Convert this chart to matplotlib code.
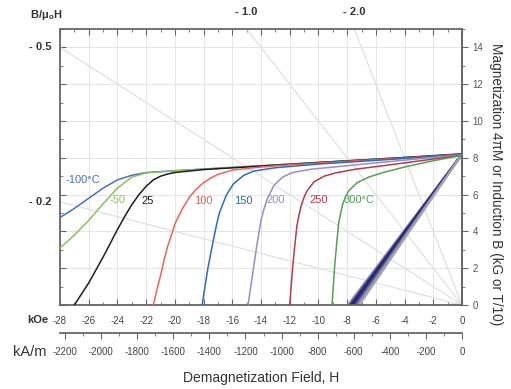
import matplotlib.pyplot as plt
import numpy as np
from matplotlib.ticker import MultipleLocator

plt.rcParams['font.family'] = ['Liberation Sans', 'DejaVu Sans']
plt.rcParams['axes.unicode_minus'] = False

# Intrinsic demagnetization curves (H in kOe, 4piM in kG)
temps = ['-100°C', '-50', '25', '100', '150', '200', '250', '300°C']
colors = ['#4a70b8', '#8fbf5c', '#1e1e1e', '#f2605a', '#2d6cb6', '#9a8cc6', '#b53d4a', '#5a9c58']

h_m100 = [-28, -27, -26, -25, -24, -23, -22, -20, -16, -12, -8, -4, 0]
m_m100 = [4.75, 5.25, 5.8, 6.35, 6.8, 7.05, 7.2, 7.3, 7.48, 7.66, 7.84, 8.02, 8.22]
h_m50 = [-28, -27, -26, -25, -24, -23, -22, -20, -16, -12, -8, -4, 0]
m_m50 = [3.1, 3.8, 4.6, 5.5, 6.35, 6.95, 7.18, 7.29, 7.47, 7.65, 7.83, 8.01, 8.21]
h_25 = [-27.0, -26.5, -26, -25.5, -25, -24.5, -24, -23.5, -23, -22.5, -22, -21.5, -21, -20.5, -20, -18, -14, -10, -6, -3, 0]
m_25 = [0, 0.6, 1.2, 1.9, 2.6, 3.35, 4.1, 4.8, 5.45, 6.0, 6.45, 6.8, 7.0, 7.12, 7.2, 7.36, 7.55, 7.74, 7.92, 8.06, 8.2]
h_100 = [-21.5, -21.2, -21, -20.7, -20.5, -20.2, -20, -19.5, -19, -18.5, -18, -17.5, -17, -16, -14, -12, -8, -4, 0]
m_100 = [0, 1.0, 1.6, 2.6, 3.2, 3.9, 4.4, 5.2, 5.85, 6.3, 6.65, 6.9, 7.1, 7.33, 7.5, 7.62, 7.81, 7.99, 8.18]
h_150 = [-18.1, -17.9, -17.7, -17.5, -17.3, -17.1, -16.9, -16.6, -16.4, -15.9, -15.2, -14.5, -13, -10, -6, -3, 0]
m_150 = [0, 1.0, 2.0, 2.8, 3.6, 4.35, 5.0, 5.6, 6.0, 6.6, 7.05, 7.28, 7.46, 7.66, 7.86, 8.02, 8.17]
h_200 = [-14.9, -14.75, -14.6, -14.45, -14.3, -14.15, -14.0, -13.8, -13.6, -13.1, -12.5, -11.8, -10.5, -8, -5, -2, 0]
m_200 = [0, 0.8, 1.6, 2.4, 3.2, 3.9, 4.6, 5.2, 5.7, 6.5, 6.95, 7.2, 7.38, 7.57, 7.8, 8.02, 8.16]
h_250 = [-12.0, -11.9, -11.8, -11.65, -11.5, -11.35, -11.2, -11.0, -10.8, -10.3, -9.6, -8.8, -7.5, -5, -2.5, 0]
m_250 = [0, 1.0, 2.0, 3.2, 4.3, 4.9, 5.4, 5.85, 6.2, 6.7, 7.0, 7.18, 7.37, 7.62, 7.88, 8.14]
h_300 = [-9.05, -8.95, -8.85, -8.72, -8.6, -8.45, -8.3, -8.1, -7.9, -7.3, -6.5, -5.5, -4, -2, 0]
m_300 = [0, 1.2, 2.3, 3.4, 4.4, 5.0, 5.5, 5.9, 6.2, 6.65, 6.95, 7.2, 7.5, 7.84, 8.13]

curves_h = [h_m100, h_m50, h_25, h_100, h_150, h_200, h_250, h_300]
curves_m = [m_m100, m_m50, m_25, m_100, m_150, m_200, m_250, m_300]

# label positions (kOe, kG)
label_h = [-27.6, -24.0, -21.9, -18.0, -15.25, -13.0, -10.0, -7.2]
label_b = [6.8, 5.7, 5.65, 5.65, 5.65, 5.7, 5.7, 5.7]
label_ha = ['left', 'center', 'center', 'center', 'center', 'center', 'center', 'center']

# Normal (B) curves: straight lines from Br to H intercept
br = [8.2, 8.2, 8.2, 8.2, 8.2, 8.2, 8.2, 8.2]
hb0 = [-7.95, -7.85, -7.78, -7.7, -7.6, -7.45, -7.3, -7.15]
b_colors = ['#9a9aaa', '#7a7a98', '#35357f', '#2a2a7c', '#262678', '#4c4c8e', '#8a8aa0', '#a4a4ae']

# Permeance (load) lines B/mu0H
perm = [0.2, 0.5, 1.0, 2.0]

KA_PER_KOE = 79.577

fig = plt.figure(figsize=(5.11, 3.89), dpi=100)
ax = fig.add_axes([60 / 511, 84 / 389, 402 / 511, 276 / 389])
ax.set_xlim(-28, 0)
ax.set_ylim(0, 15)

ax.set_xticks(np.arange(-28, 1, 2))
ax.xaxis.set_minor_locator(MultipleLocator(1))
ax.set_yticks(np.arange(0, 15, 2))
ax.yaxis.set_minor_locator(MultipleLocator(1))
ax.grid(True, which='major', color='#e4e4e4', lw=0.7)
ax.set_axisbelow(True)

for s in ax.spines.values():
    s.set_color('#666666')
    s.set_linewidth(1.3)

ax.tick_params(axis='x', which='both', direction='in', top=True, bottom=True,
               labelsize=7, labelcolor='#444444', color='#666666', pad=8)
ax.tick_params(axis='x', which='major', length=4)
ax.tick_params(axis='x', which='minor', length=2)
ax.tick_params(axis='y', which='both', direction='in', left=True, right=False,
               labelleft=False, color='#666666')
ax.tick_params(axis='y', which='major', length=4)
ax.tick_params(axis='y', which='minor', length=2)
ax.set_xticklabels([str(int(v)) for v in np.arange(-28, 1, 2)])

# load lines
hh = np.array([-28.0, 0.0])
for p in perm:
    ax.plot(hh, -p * hh, color='#e0e0e0', lw=0.9, zorder=1)

# normal curves
for h0, b0, c in zip(hb0, br, b_colors):
    ax.plot([h0, 0], [0, b0], color=c, lw=1.6, zorder=2)

# intrinsic curves
for h, m, c in zip(curves_h, curves_m, colors):
    ax.plot(h, m, color=c, lw=1.1, zorder=3)

for t, x, y, ha, c in zip(temps, label_h, label_b, label_ha, colors):
    ax.text(x, y, t, color=c, fontsize=8, ha=ha, va='center', zorder=4)

# right axis
sec = ax.secondary_yaxis('right')
sec.set_yticks(np.arange(0, 15, 2))
sec.yaxis.set_minor_locator(MultipleLocator(1))
sec.tick_params(which='both', direction='out', labelsize=7, labelcolor='#555555', color='#666666')
sec.tick_params(which='major', length=4)
sec.tick_params(which='minor', length=2)
sec.spines['right'].set_color('#666666')
sec.spines['right'].set_linewidth(1.3)
fig.text(496 / 511, 1 - 184 / 389, 'Magnetization 4πM or Induction B (kG or T/10)',
         fontsize=9.8, color='#333333', rotation=-90, ha='center', va='center')

# kA/m axis
secx = ax.secondary_xaxis(-28 / 276, functions=(lambda v: v * KA_PER_KOE, lambda v: v / KA_PER_KOE))
secx.set_xticks(np.arange(-2200, 1, 200))
secx.xaxis.set_minor_locator(MultipleLocator(100))
secx.tick_params(which='both', direction='out', labelsize=7, labelcolor='#444444', color='#666666', pad=6)
secx.tick_params(which='major', length=4)
secx.tick_params(which='minor', length=2)
secx.spines['bottom'].set_color('#666666')
secx.spines['bottom'].set_linewidth(1.3)
secx.set_xlabel('Demagnetization Field, H', fontsize=10, color='#333333', labelpad=10)

# permeance labels
for p in perm:
    if p < 1:
        ax.text(-28.6, -p * -28, '- %.1f' % p, fontsize=8, fontweight='bold',
                color='#333333', ha='right', va='center')
    else:
        ax.text(-15 / p, 15.9, '- %.1f' % p, fontsize=8, fontweight='bold',
                color='#333333', ha='center', va='center')

fig.text(30 / 511, 1 - 15 / 389, r'B/$\mathregular{\mu_o}$H', fontsize=8, fontweight='bold',
         color='#333333', ha='left', va='center')
fig.text(48 / 511, 1 - 320 / 389, 'kOe', fontsize=8, fontweight='bold', color='#333333',
         ha='right', va='center')
fig.text(13 / 511, 1 - 352 / 389, 'kA/m', fontsize=10.5, color='#333333', ha='left', va='center')

fig.savefig('out.png', dpi=100)
